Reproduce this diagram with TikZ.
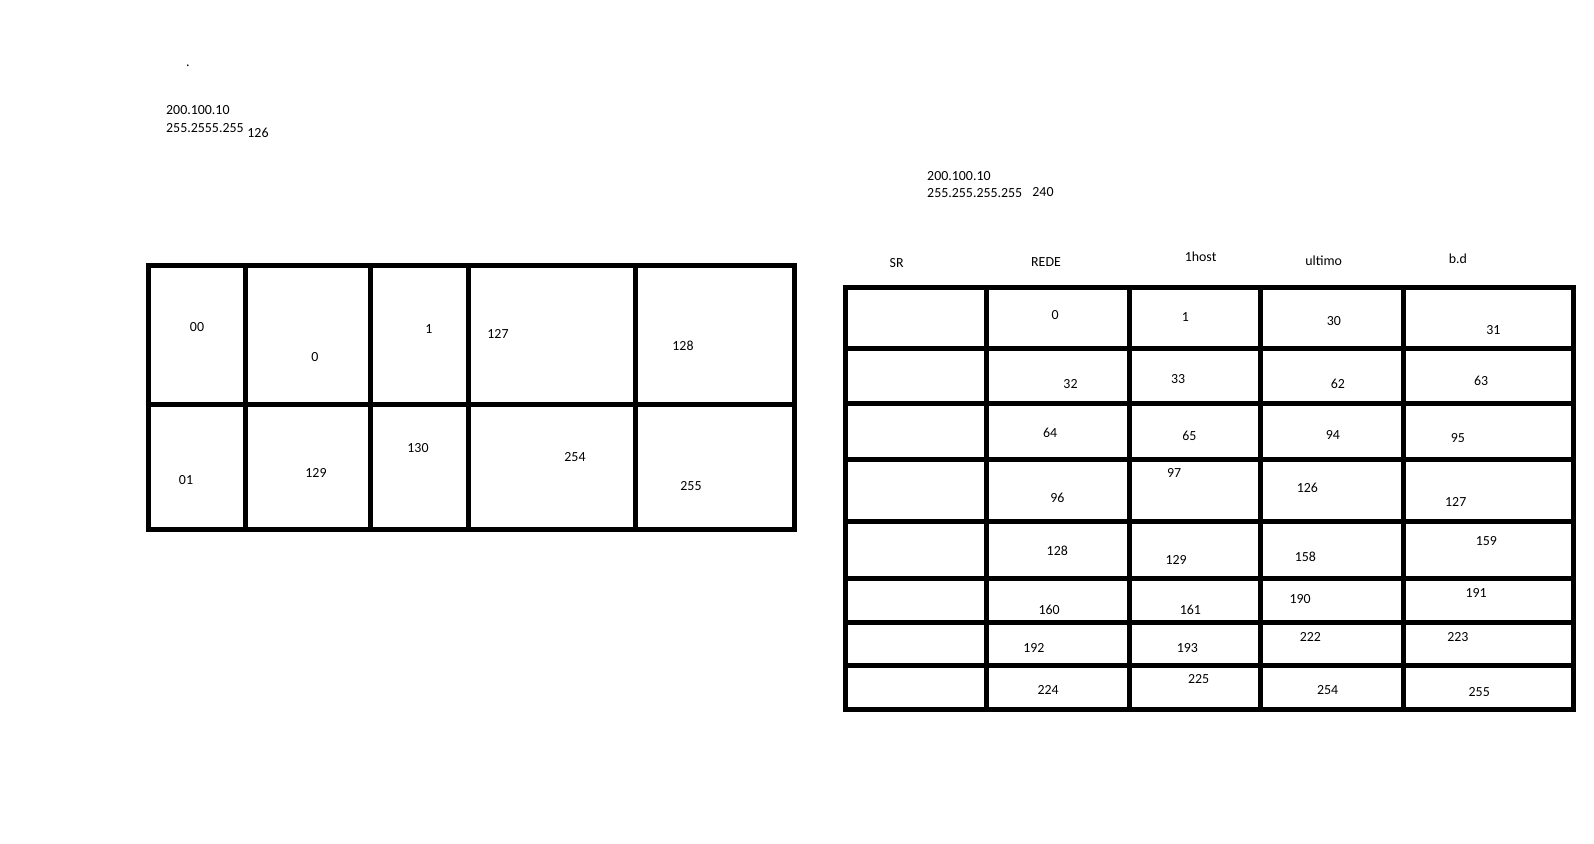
\documentclass[tikz,border=0pt]{standalone}
\usepackage{fontspec}
\setmainfont{Carlito}
\begin{document}
\begin{tikzpicture}[x=1pt,y=-1pt,
  grid/.style={line width=5pt,line cap=rect},
  lbl/.style={inner sep=0pt,font=\fontsize{13.9}{15}\selectfont},
  lbll/.style={lbl,anchor=west}]
\useasboundingbox (0,0) rectangle (1594,843);
% ---------- top-left notes ----------
\node[lbl] (dot) at (188,66) {.};
\node[lbll] (ipa) at (166,110) {200.100.10};
\node[lbll] (maska) at (166,128) {255.2555.255};
\node[lbl] (na) at (258,133) {126};
% ---------- top-right notes ----------
\node[lbll] (ipb) at (927,176) {200.100.10};
\node[lbll] (maskb) at (927,193) {255.255.255.255};
\node[lbl] (nb) at (1043,192) {240};
% ---------- left table ----------
\draw[grid] (148.4,265.3) rectangle (794,529.6);
\draw[grid] (148.4,404.6) -- (794,404.6);
\foreach \x in {245.3,370,468.5,635.2} \draw[grid] (\x,265.3) -- (\x,529.6);
\node[lbl] (l00) at (197,327) {00};
\node[lbl] (l0) at (315,357) {0};
\node[lbl] (l1) at (429,329) {1};
\node[lbl] (l127) at (498,334) {127};
\node[lbl] (l128) at (683,346) {128};
\node[lbl] (l01) at (186,480) {01};
\node[lbl] (l129) at (316,473) {129};
\node[lbl] (l130) at (418,448) {130};
\node[lbl] (l254) at (575,457) {254};
\node[lbl] (l255) at (691,486) {255};
% ---------- right table ----------
\draw[grid] (845.8,287.9) rectangle (1573.7,709.8);
\foreach \y in {348,403.8,459.8,521,578.9,622.8,665.5} \draw[grid] (845.8,\y) -- (1573.7,\y);
\foreach \x in {986.6,1129.4,1260.3,1403.9} \draw[grid] (\x,287.9) -- (\x,709.8);
\node[lbl] (hsr) at (896.7,263.3) {SR};
\node[lbl] (hrede) at (1046,262.3) {REDE};
\node[lbl] (hhost) at (1200.6,257.2) {1host};
\node[lbl] (hult) at (1323.6,260.3) {ultimo};
\node[lbl] (hbd) at (1457.8,259.2) {b.d};
% row 1
\node[lbl] (r1a) at (1055.2,315.2) {0};
\node[lbl] (r1b) at (1185.4,317.2) {1};
\node[lbl] (r1c) at (1333.8,321.2) {30};
\node[lbl] (r1d) at (1493.4,330.4) {31};
% row 2
\node[lbl] (r2a) at (1070.5,384.3) {32};
\node[lbl] (r2b) at (1178.2,379.2) {33};
\node[lbl] (r2c) at (1337.8,384.3) {62};
\node[lbl] (r2d) at (1481.2,381.2) {63};
% row 3
\node[lbl] (r3a) at (1050.1,433.1) {64};
\node[lbl] (r3b) at (1189.4,436.1) {65};
\node[lbl] (r3c) at (1332.8,435.1) {94};
\node[lbl] (r3d) at (1457.8,438.2) {95};
% row 4
\node[lbl] (r4a) at (1057.3,498.1) {96};
\node[lbl] (r4b) at (1174.2,472.7) {97};
\node[lbl] (r4c) at (1307.3,488) {126};
\node[lbl] (r4d) at (1455.7,502.2) {127};
% row 5
\node[lbl] (r5a) at (1057.3,551) {128};
\node[lbl] (r5b) at (1176.2,560.1) {129};
\node[lbl] (r5c) at (1305.3,557.1) {158};
\node[lbl] (r5d) at (1486.3,540.8) {159};
% row 6
\node[lbl] (r6a) at (1049.1,610) {160};
\node[lbl] (r6b) at (1190.4,610) {161};
\node[lbl] (r6c) at (1300.2,598.8) {190};
\node[lbl] (r6d) at (1476.1,592.7) {191};
% row 7
\node[lbl] (r7a) at (1033.9,647.6) {192};
\node[lbl] (r7b) at (1187.4,647.6) {193};
\node[lbl] (r7c) at (1310.4,637.4) {222};
\node[lbl] (r7d) at (1457.8,637.4) {223};
% row 8
\node[lbl] (r8a) at (1048.1,690.3) {224};
\node[lbl] (r8b) at (1198.6,679.1) {225};
\node[lbl] (r8c) at (1327.7,690.3) {254};
\node[lbl] (r8d) at (1479.2,692.3) {255};
\end{tikzpicture}
\end{document}
